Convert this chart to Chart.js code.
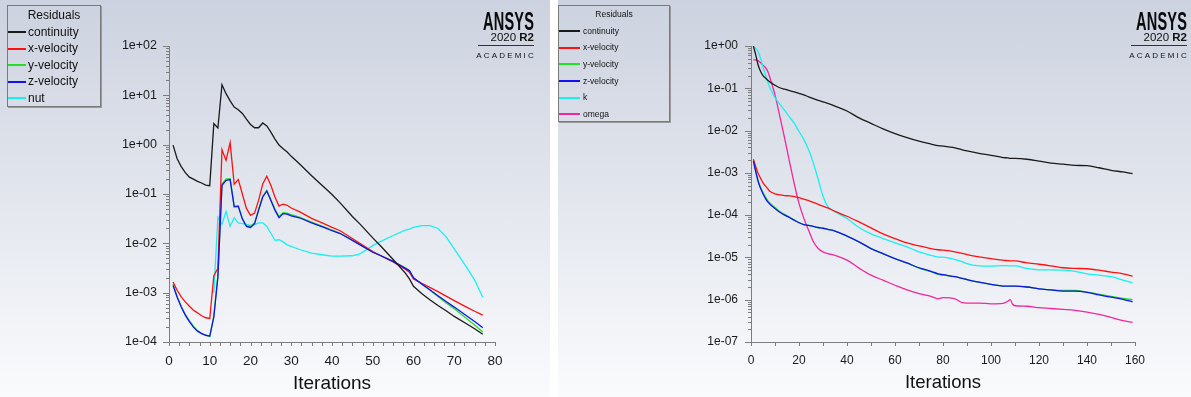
<!DOCTYPE html>
<html><head><meta charset="utf-8">
<script src="https://cdn.jsdelivr.net/npm/chart.js@4.4.1/dist/chart.umd.min.js"></script>
<style>
html,body{margin:0;padding:0;background:#fff;width:1191px;height:397px;overflow:hidden;font-family:'Liberation Sans',Arial,sans-serif;}
.panel{position:absolute;top:0;height:397px;background:linear-gradient(to bottom,#ccd2df 0%,#e0e4ec 45%,#fafbfd 100%);}
#pl{left:0;width:550px}
#pr{left:558px;width:633px}
canvas{position:absolute;left:0;top:0}
.legend{position:absolute;border:1px solid #7a7a7a;box-shadow:1px 1px 0 #9a9a9a;box-sizing:border-box;}
.legend .ttl{position:absolute;left:0;right:0;text-align:center;color:#111;}
.legend .it{position:absolute;left:0;white-space:nowrap;color:#111;}
.legend .sw{position:absolute;left:0;}
.logo{position:absolute;text-align:right;color:#111;}
.logo .an{position:absolute;right:0;font-weight:bold;font-size:26px;transform:scaleX(0.56);transform-origin:right center;line-height:24px;letter-spacing:0.3px;color:#0a0a0a;}
.logo .ver{position:absolute;right:0;font-size:11.5px;line-height:13px;white-space:nowrap;}
.logo .rule{position:absolute;right:0;height:1px;background:#333;}
.logo .ac{position:absolute;right:-2px;font-size:8px;letter-spacing:2.2px;line-height:10px;white-space:nowrap;}
</style>
</head><body>
<div class="panel" id="pl"><canvas id="cl" width="550" height="397"></canvas></div>
<div class="panel" id="pr"><canvas id="cr" width="633" height="397"></canvas></div>
<script>
// ---------- data: left chart ----------
const L_ITER = [1,2,3,4,5,6,7,8,9,10,11,12,13,14,15,16,17,18,19,20,21,22,23,24,25,26,27,28,29,30,
  32,35,38,40,42,45,47,50,52,55,58,59,60,62,64,66,68,70,73,75,77];
const L_CONT = [0.98,0.52,0.36,0.27,0.22,0.2,0.18,0.167,0.152,0.147,
  2.67,2.18,16.4,10.8,7.7,5.8,5.1,4.3,3.3,2.57,
  2.2,2.2,2.75,2.4,1.8,1.3,0.98,0.83,0.71,0.58,
  0.41,0.235,0.138,0.098,0.066,0.035,0.024,0.0129,0.0087,0.0047,0.0025,0.0019,0.00135,0.00096,0.00072,0.00055,0.00043,0.00033,0.000235,0.000186,0.000144];
const L_XVEL = [0.00165,0.00112,0.00082,0.00065,0.00053,0.00044,0.00039,0.00034,0.00031,0.0003,
  0.0022,0.0031,0.79,0.48,1.1,0.158,0.196,0.1,0.051,0.037,
  0.041,0.075,0.16,0.23,0.15,0.087,0.057,0.062,0.059,0.052,
  0.044,0.032,0.025,0.021,0.018,0.0125,0.0098,0.0068,0.0056,0.0042,0.003,0.0026,0.0019,0.00155,0.00128,0.00105,0.00085,0.00069,0.00051,0.00042,0.00035];
const L_YVEL = [0.0015,0.00084,0.00053,0.00036,0.00027,0.00021,0.00017,0.00015,0.000138,0.000128,
  0.00034,0.0022,0.16,0.2,0.205,0.057,0.058,0.032,0.023,0.022,
  0.026,0.049,0.09,0.118,0.077,0.049,0.035,0.042,0.041,0.038,
  0.034,0.027,0.0215,0.0185,0.016,0.0117,0.0093,0.0067,0.0056,0.0043,0.0032,0.0028,0.002,0.0015,0.00113,0.00084,0.00062,0.00047,0.0003,0.00022,0.000159];
const L_ZVEL = [0.0014,0.00081,0.00051,0.00035,0.00026,0.0002,0.000166,0.000148,0.000137,0.000132,
  0.00032,0.0021,0.15,0.19,0.196,0.055,0.056,0.031,0.022,0.021,
  0.025,0.047,0.087,0.115,0.074,0.047,0.033,0.04,0.039,0.036,
  0.033,0.026,0.021,0.018,0.0158,0.0115,0.0092,0.0066,0.0056,0.0043,0.0031,0.0028,0.002,0.0015,0.00115,0.00087,0.00066,0.00051,0.00034,0.00026,0.000195];
const L_NUT = [null,null,null,null,null,null,null,null,null,null,
  0.001,0.034,0.0245,0.044,0.022,0.033,0.026,0.025,0.024,0.023,
  0.024,0.026,0.026,0.022,0.016,0.0115,0.0118,0.0107,0.0093,0.0087,
  0.0075,0.0063,0.0058,0.0055,0.0055,0.0056,0.0062,0.009,0.011,0.0144,0.0185,0.0195,0.021,0.0228,0.0228,0.02,0.0135,0.0077,0.0033,0.0018,0.00081];
const L_NAMES = ['continuity','x-velocity','y-velocity','z-velocity','nut'];
const L_X_TICKS = {min:0, max:80, minor:2.5, label:10};
const L_Y_DECADES = {min:-4, max:2};

// ---------- data: right chart ----------
const R_ITER = [1,2,3,4,5,6,7,8,10,12,14,16,18,20,22,24,26,28,30,32,35,40,45,50,55,60,65,70,75,78,80,85,88,90,95,100,105,107,108,109,110,115,120,125,130,135,140,145,150,155,159];
const R_CONT = [1.0,0.61,0.35,0.25,0.2,0.175,0.155,0.14,
  0.118,0.103,0.095,0.088,0.082,0.076,0.07,0.063,0.057,0.052,0.048,0.044,
  0.038,0.029,0.02,0.0148,0.011,0.0085,0.0068,0.0056,0.0048,
  0.0044,0.0043,0.0039,0.0035,0.0033,0.0029,0.0026,0.0023,
  0.00225,0.0022,0.0022,0.0022,
  0.0021,0.0019,0.0017,0.0016,0.0015,0.00148,0.00132,0.00115,0.00105,0.00096];
const R_XVEL = [0.0021,0.00139,0.00096,0.00074,0.00058,0.00049,0.00042,0.00036,
  0.00032,0.0003,0.00029,0.000285,0.000275,0.00026,0.00024,0.00022,0.0002,0.00018,0.000163,0.000148,
  0.000123,0.000094,0.000069,0.00005,0.000036,0.000028,0.000022,0.0000187,0.0000162,
  0.0000152,0.0000148,0.0000135,0.0000125,0.0000117,0.0000103,0.0000094,0.0000086,
  0.0000084,0.0000083,0.0000083,0.0000083,
  0.0000074,0.0000069,0.0000063,0.0000057,0.0000055,0.0000054,0.000005,0.0000045,0.0000041,0.0000036];
const R_YVEL = [0.002,0.0011,0.00065,0.00045,0.00034,0.00027,0.00022,0.00019,
  0.000152,0.000122,0.000104,0.00009,0.000077,0.000067,0.00006,0.000057,0.000054,0.000051,0.000049,0.000046,
  0.000042,0.000032,0.0000232,0.0000162,0.0000122,0.0000093,0.0000073,0.0000056,0.0000046,
  0.000004,0.0000038,0.0000035,0.0000032,0.000003,0.0000026,0.0000023,0.0000021,
  0.0000021,0.0000021,0.0000021,0.0000021,
  0.000002,0.0000018,0.0000017,0.00000165,0.00000165,0.00000152,0.00000135,0.0000012,0.00000108,0.000001];
const R_ZVEL = [0.0019,0.00105,0.00062,0.00043,0.00032,0.00025,0.000205,0.000178,
  0.000144,0.000117,0.0001,0.000088,0.000076,0.000066,0.00006,0.000057,0.000054,0.000051,0.000049,0.000046,
  0.000042,0.000032,0.0000234,0.0000162,0.0000123,0.0000094,0.0000074,0.0000057,0.0000047,
  0.0000041,0.0000039,0.0000035,0.0000032,0.000003,0.0000026,0.0000023,0.0000021,
  0.0000021,0.0000021,0.0000021,0.0000021,
  0.000002,0.0000018,0.0000017,0.0000016,0.0000016,0.0000015,0.0000013,0.00000115,0.00000102,0.00000089];
const R_K = [0.96,0.88,0.73,0.51,0.32,0.21,0.14,0.1,
  0.06,0.042,0.03,0.021,0.015,0.0095,0.0062,0.0035,0.0017,0.0007,0.00028,0.00016,
  0.00012,0.000083,0.000051,0.000036,0.000028,0.000022,0.0000178,0.0000135,0.0000112,
  0.0000102,0.0000102,0.0000089,0.000008,0.0000071,0.0000063,0.0000062,0.0000064,
  0.0000064,0.0000063,0.0000063,0.0000063,
  0.0000055,0.0000051,0.0000051,0.000005,0.0000047,0.0000041,0.0000038,0.0000035,0.0000029,0.0000025];
const R_OMEGA = [0.47,0.47,0.45,0.40,0.35,0.31,0.25,0.17,
  0.07,0.022,0.0066,0.0019,0.00056,0.00019,0.000085,0.000044,0.0000234,0.0000162,0.0000135,0.0000123,
  0.0000112,0.0000086,0.0000056,0.0000038,0.0000029,0.0000022,0.0000017,0.0000014,0.0000012,
  0.00000105,0.00000112,0.00000105,0.00000085,0.00000083,0.00000083,0.0000008,0.00000082,
  0.00000092,0.000001,0.00000078,0.00000072,
  0.0000007,0.00000065,0.00000062,0.00000059,0.00000056,0.00000051,0.00000045,0.00000038,0.00000032,0.00000029];
const R_NAMES = ['continuity','x-velocity','y-velocity','z-velocity','k','omega'];
const R_X_TICKS = {min:0, max:160, minor:10, label:20};
const R_Y_DECADES = {min:-7, max:0};

// ---------- styling ----------
const FONT = "'Liberation Sans', Arial, sans-serif";
const AXIS = '#7d7d7d';
const C = {cont:'#1a1a1a', x:'#ff1010', y:'#22e022', z:'#1212f0', cyan:'#18f0f0', mag:'#f2279c'};
const L_COLORS = [C.cont, C.x, C.y, C.z, C.cyan];
const R_COLORS = [C.cont, C.x, C.y, C.z, C.cyan, C.mag];

function isDecade(v){ const e = Math.round(Math.log10(v)); return Math.abs(v/Math.pow(10,e) - 1) < 1e-6; }
function fmtLog(v){
  if(!isDecade(v)) return '';
  const e = Math.round(Math.log10(v));
  const a = Math.abs(e);
  return '1e' + (e >= 0 ? '+' : '-') + (a < 10 ? '0' + a : String(a));
}
function logTicks(d){
  const out = [];
  for(let e = d.min; e < d.max; e++) for(let m = 1; m <= 9; m++) out.push({value: m*Math.pow(10,e)});
  out.push({value: Math.pow(10,d.max)});
  return out;
}
function linTicks(t){ const out=[]; for(let v=t.min; v<=t.max+1e-9; v+=t.minor) out.push({value:v}); return out; }
function pts(xs, ys){ return xs.map((x,i)=>({x:x, y:ys[i]})); }

const tickPlugin = {
  id:'axisTicks',
  afterDraw(chart){
    const ctx = chart.ctx, a = chart.chartArea, xs = chart.scales.x, ys = chart.scales.y;
    ctx.save(); ctx.strokeStyle = AXIS; ctx.lineWidth = 1; ctx.beginPath();
    ys.ticks.forEach(t=>{ const p = Math.round(ys.getPixelForValue(t.value)) + 0.5; const len = isDecade(t.value) ? 6 : 3;
      ctx.moveTo(a.left, p); ctx.lineTo(a.left - len, p); });
    xs.ticks.forEach(t=>{ const p = Math.round(xs.getPixelForValue(t.value)) + 0.5;
      ctx.moveTo(p, a.bottom); ctx.lineTo(p, a.bottom + 4); });
    ctx.stroke(); ctx.restore();
  }
};

function makeChart(id, cfg){
  const ds = cfg.series.map((s,i)=>({
    label: cfg.names[i], data: pts(cfg.iter, s), borderColor: cfg.colors[i], backgroundColor: cfg.colors[i],
    borderWidth: 1.3, pointRadius: 0, fill: false, tension: 0, order: cfg.order[i],
    cubicInterpolationMode: cfg.smooth ? 'monotone' : 'default'
  }));
  return new Chart(document.getElementById(id), {
    type:'line',
    data:{datasets: ds},
    plugins:[tickPlugin],
    options:{
      responsive:false, animation:false, events:[],
      layout:{padding:{left:0, top:cfg.top, right:cfg.right, bottom:0}},
      plugins:{legend:{display:false}, tooltip:{enabled:false}},
      scales:{
        x:{type:'linear', min:cfg.xt.min, max:cfg.xt.max,
          afterBuildTicks: s=>{ s.ticks = linTicks(cfg.xt); },
          afterFit: s=>{ s.height = cfg.xh; },
          grid:{display:false, drawTicks:false}, border:{color:AXIS, width:1},
          ticks:{autoSkip:false, maxRotation:0, padding:cfg.xpad, color:'#1a1a1a', font:{family:FONT, size:cfg.xfs},
            callback: v => (Math.abs(v % cfg.xt.label) < 1e-9 ? String(v) : '')},
          title:{display:true, text:'Iterations', color:'#111', font:{family:FONT, size:cfg.tfs}, padding:{top:0, bottom:cfg.tpad}}
        },
        y:{type:'logarithmic', min:Math.pow(10,cfg.yd.min), max:Math.pow(10,cfg.yd.max),
          afterBuildTicks: s=>{ s.ticks = logTicks(cfg.yd); },
          afterFit: s=>{ s.width = cfg.yw; },
          grid:{display:false, drawTicks:false}, border:{color:AXIS, width:1},
          ticks:{autoSkip:false, padding:cfg.ypad, color:'#1a1a1a', font:{family:FONT, size:cfg.yfs}, callback: v => fmtLog(v)}
        }
      }
    }
  });
}

makeChart('cl', {iter:L_ITER, series:[L_CONT,L_XVEL,L_YVEL,L_ZVEL,L_NUT], names:L_NAMES, colors:L_COLORS,
  order:[1,3,4,2,5], smooth:false, xt:L_X_TICKS, yd:L_Y_DECADES,
  top:46, right:55, xh:55, yw:169, xpad:11, ypad:12, xfs:13.5, yfs:12.5, tfs:19, tpad:1.6});
makeChart('cr', {iter:R_ITER, series:[R_CONT,R_XVEL,R_YVEL,R_ZVEL,R_K,R_OMEGA], names:R_NAMES, colors:R_COLORS,
  order:[1,3,4,2,5,6], smooth:true, xt:R_X_TICKS, yd:R_Y_DECADES,
  top:46, right:56, xh:55, yw:193, xpad:11, ypad:13, xfs:12, yfs:12, tfs:18.5, tpad:3.2});

// ---------- legends ----------
function legend(parent, box, names, colors){
  const d = document.createElement('div'); d.className='legend';
  Object.assign(d.style, {left:box.x+'px', top:box.y+'px', width:box.w+'px', height:box.h+'px'});
  const t = document.createElement('div'); t.className='ttl'; t.textContent='Residuals';
  Object.assign(t.style, {top:(box.ty - box.y - box.tfs*0.6)+'px', fontSize:box.tfs+'px', lineHeight:(box.tfs*1.2)+'px'});
  d.appendChild(t);
  names.forEach((n,i)=>{
    const cy = box.y0 + i*box.dy - box.y;
    const sw = document.createElement('div'); sw.className='sw';
    Object.assign(sw.style, {top:Math.round(cy - box.lw/2)+'px', width:box.sw+'px', height:box.lw+'px', background:colors[i]});
    d.appendChild(sw);
    const it = document.createElement('div'); it.className='it'; it.textContent=n;
    Object.assign(it.style, {left:box.tx+'px', top:(cy - box.fs*0.62)+'px', fontSize:box.fs+'px', lineHeight:(box.fs*1.2)+'px'});
    d.appendChild(it);
  });
  parent.appendChild(d);
}
legend(document.getElementById('pl'), {x:7,y:5,w:94,h:102,ty:14,tfs:12,y0:31,dy:16.6,sw:18,tx:20,fs:12,lw:2}, L_NAMES, L_COLORS);
legend(document.getElementById('pr'), {x:0,y:5,w:112,h:117,ty:13,tfs:8.5,y0:30,dy:16.65,sw:21,tx:24,fs:8.5,lw:2}, R_NAMES, R_COLORS);

// ---------- logos ----------
function logo(parent, right, top){
  const d = document.createElement('div'); d.className='logo';
  Object.assign(d.style, {right:right+'px', top:top+'px', width:60+'px', height:60+'px'});
  d.innerHTML = '<div class="an" style="top:9px">ANSYS</div>' +
    '<div class="ver" style="top:31px">2020 <b>R2</b></div>' +
    '<div class="rule" style="top:45px;width:56px"></div>' +
    '<div class="ac" style="top:51px">ACADEMIC</div>';
  parent.appendChild(d);
}
logo(document.getElementById('pl'), 16, 0);
logo(document.getElementById('pr'), 4, 0);
</script>
</body></html>
